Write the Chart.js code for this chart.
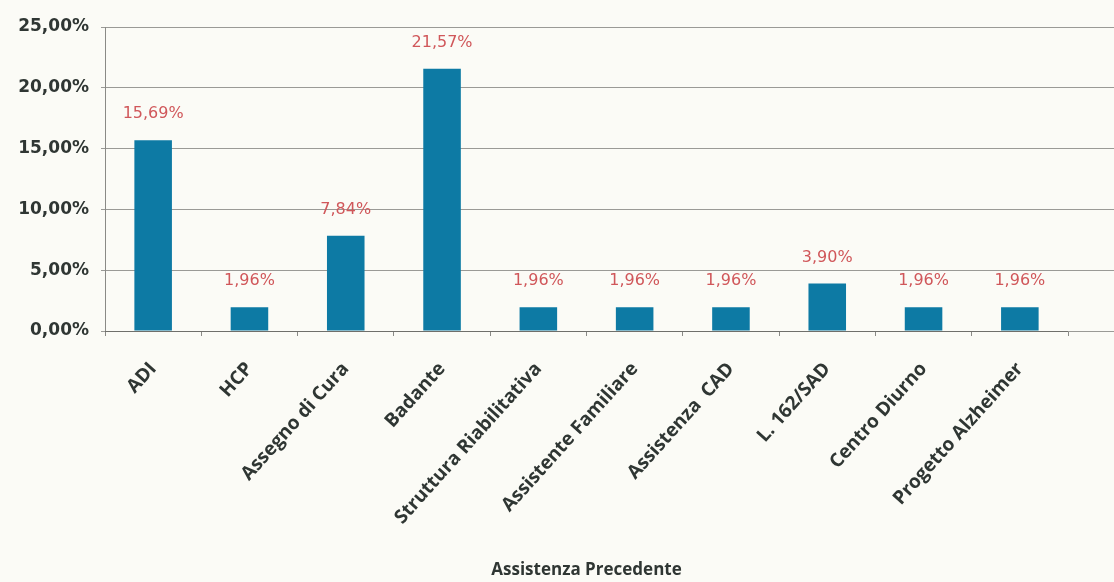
<!DOCTYPE html>
<html>
<head>
<meta charset="utf-8">
<script src="https://cdn.jsdelivr.net/npm/chart.js@4"></script>
<style>
  html, body { margin: 0; padding: 0; background: #fbfbf6; }
  #wrap { width: 1114px; height: 582px; }
</style>
</head>
<body>
<div id="wrap"><canvas id="chart"></canvas></div>
<script>
var categories = ["ADI", "HCP", "Assegno di Cura", "Badante", "Struttura Riabilitativa",
  "Assistente Familiare", "Assistenza  CAD", "L. 162/SAD", "Centro Diurno", "Progetto Alzheimer"];
var percentages = [15.69, 1.96, 7.84, 21.57, 1.96, 1.96, 1.96, 3.90, 1.96, 1.96];

var barColor = "#0d7aa4";
var labelColor = "#d0575a";
var gridColor = "#9a9a96";

function pct(v) {
  return v.toFixed(2).replace(".", ",") + "%";
}

// value labels above each bar
var valueLabels = {
  id: "valueLabels",
  afterDatasetsDraw: function (chart) {
    var ctx = chart.ctx;
    var meta = chart.getDatasetMeta(0);
    ctx.save();
    ctx.font = "16px 'DejaVu Sans'";
    ctx.fillStyle = labelColor;
    ctx.textAlign = "center";
    ctx.textBaseline = "bottom";
    meta.data.forEach(function (bar, i) {
      ctx.fillText(pct(percentages[i]), bar.x, bar.y - 18);
    });
    ctx.restore();
  }
};

// gridlines keep running to the right edge of the canvas
var gridRun = {
  id: "gridRun",
  beforeDatasetsDraw: function (chart) {
    var ctx = chart.ctx;
    var y = chart.scales.y;
    ctx.save();
    ctx.strokeStyle = gridColor;
    ctx.lineWidth = 1;
    y.ticks.forEach(function (t) {
      var py = Math.round(y.getPixelForValue(t.value) + 0.5) - 0.5;
      ctx.beginPath();
      ctx.moveTo(chart.chartArea.right, py);
      ctx.lineTo(chart.width, py);
      ctx.stroke();
    });
    ctx.restore();
  }
};

new Chart(document.getElementById("chart"), {
  type: "bar",
  data: {
    labels: categories,
    datasets: [{
      data: percentages,
      backgroundColor: barColor,
      barPercentage: 0.39,
      categoryPercentage: 1
    }]
  },
  plugins: [valueLabels, gridRun],
  options: {
    responsive: true,
    maintainAspectRatio: false,
    animation: false,
    layout: { padding: { top: 27, right: 46, left: 0, bottom: 0 } },
    plugins: {
      legend: { display: false },
      tooltip: { enabled: false }
    },
    scales: {
      y: {
        min: 0,
        max: 25,
        ticks: {
          stepSize: 5,
          color: "#2f3633",
          font: { family: "'DejaVu Sans'", size: 17, weight: "bold" },
          padding: 12,
          callback: function (v) { return pct(v); }
        },
        grid: { color: gridColor, tickLength: 4 },
        border: { color: "#8a8a86" },
        afterFit: function (scale) { scale.width = 105; }
      },
      x: {
        ticks: {
          color: "#2f3633",
          font: { family: "'Open Sans'", size: 19, weight: "bold" },
          maxRotation: 48,
          minRotation: 48,
          autoSkip: false,
          padding: 22
        },
        grid: { display: true, drawOnChartArea: false, color: "#8a8a86", tickLength: 5 },
        border: { color: "#6f6f6b" },
        title: {
          display: true,
          text: "Assistenza Precedente",
          color: "#2f3633",
          font: { family: "'Open Sans'", size: 17, weight: "bold" },
          padding: { top: 0, bottom: 2 }
        },
        afterFit: function (scale) { scale.height = 251; }
      }
    }
  }
});
</script>
</body>
</html>
